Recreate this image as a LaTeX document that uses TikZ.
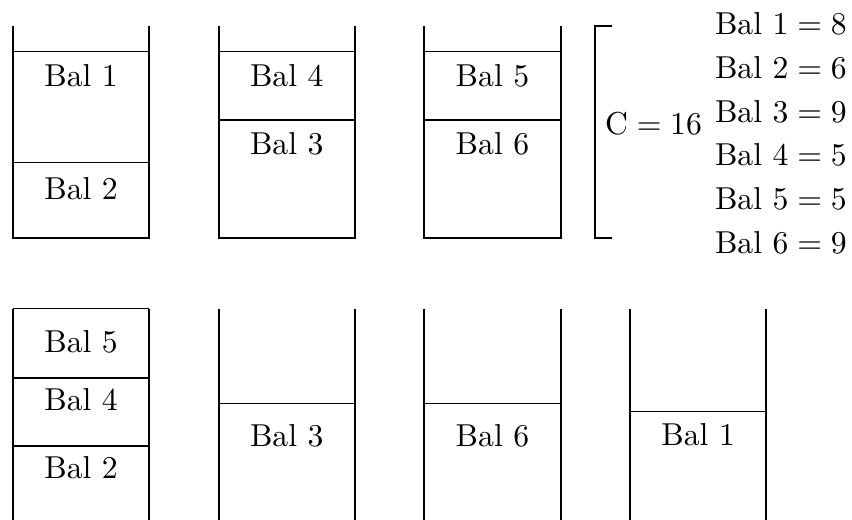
\documentclass[tikz,border=0pt]{standalone}
\begin{document}
\begin{tikzpicture}[scale=0.5,
		binwall/.style={semithick},
		divider/.style={thin}]
		\useasboundingbox (-0.288,-6.23) rectangle (18.60,5.277);
		\clip (-0.288,-6.23) rectangle (18.60,5.277);
		% upper row: three bins
		\foreach \x in {0,4.56,9.12}
			\draw [binwall] (\x,4.70) -- (\x,0) -- (\x+3.02,0) -- (\x+3.02,4.70);
		\draw [divider] (0,4.135) -- (3.02,4.135);
		\draw [divider] (0,1.674) -- (3.02,1.674);
		\draw [divider] (4.56,4.135) -- (7.58,4.135);
		\draw [divider] (4.56,2.616) -- (7.58,2.616);
		\draw [divider] (9.12,4.135) -- (12.14,4.135);
		\draw [divider] (9.12,2.616) -- (12.14,2.616);
		\node (ua1) at (1.51,3.59) {Bal 1};
		\node (ua2) at (1.51,1.10) {Bal 2};
		\node (ub4) at (6.07,3.59) {Bal 4};
		\node (ub3) at (6.07,2.08) {Bal 3};
		\node (uc5) at (10.63,3.59) {Bal 5};
		\node (uc6) at (10.63,2.08) {Bal 6};
		% capacity and sizes
		\draw [thin] (13.28,4.70) -- (12.90,4.70) -- (12.90,0) -- (13.28,0);
		\node (cap) at (14.20,2.54) {$\mathrm{C} = 16$};
		\node [anchor=east] (s1) at (18.73,4.745) {Bal $1 = 8$};
		\node [anchor=east] (s2) at (18.73,3.776) {Bal $2 = 6$};
		\node [anchor=east] (s3) at (18.73,2.807) {Bal $3 = 9$};
		\node [anchor=east] (s4) at (18.73,1.838) {Bal $4 = 5$};
		\node [anchor=east] (s5) at (18.73,0.869) {Bal $5 = 5$};
		\node [anchor=east] (s6) at (18.73,-0.100) {Bal $6 = 9$};
		% lower row: four bins
		\foreach \x in {0,4.56,9.12,13.68}
			\draw [binwall] (\x,-1.563) -- (\x,-6.264) -- (\x+3.02,-6.264) -- (\x+3.02,-1.563);
		\draw [divider] (0,-1.563) -- (3.02,-1.563);
		\draw [divider] (0,-3.104) -- (3.02,-3.104);
		\draw [divider] (0,-4.612) -- (3.02,-4.612);
		\draw [divider] (4.56,-3.665) -- (7.58,-3.665);
		\draw [divider] (9.12,-3.665) -- (12.14,-3.665);
		\draw [divider] (13.68,-3.851) -- (16.70,-3.851);
		\node (la5) at (1.51,-2.30) {Bal 5};
		\node (la4) at (1.51,-3.59) {Bal 4};
		\node (la2) at (1.51,-5.10) {Bal 2};
		\node (lb3) at (6.07,-4.39) {Bal 3};
		\node (lc6) at (10.63,-4.39) {Bal 6};
		\node (ld1) at (15.19,-4.37) {Bal 1};
\end{tikzpicture}
\end{document}
